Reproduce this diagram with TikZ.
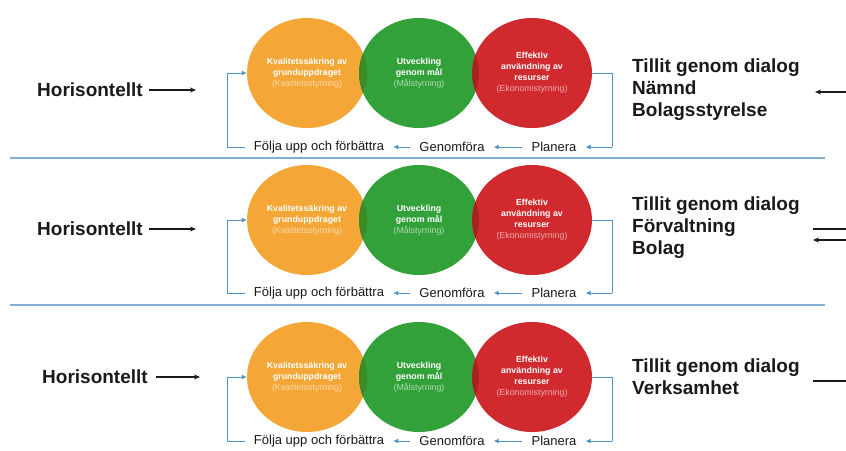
\documentclass[tikz,border=0pt]{standalone}
\usepackage{fontspec}
\setmainfont{Liberation Sans}
\usetikzlibrary{arrows.meta,shapes.geometric}
\definecolor{cOr}{HTML}{F4A636}
\definecolor{cGr}{HTML}{33A13A}
\definecolor{cRd}{HTML}{D02A2E}
\definecolor{cOG}{HTML}{3C8B24}
\definecolor{cGR}{HTML}{A92222}
\definecolor{cBl}{HTML}{4D93C9}
\definecolor{cSep}{HTML}{7FB1D8}
\definecolor{cTx}{HTML}{1A1A1A}
\tikzset{
  bubble/.style={ellipse,minimum width=120pt,minimum height=110pt,inner sep=0pt,
    text=white,align=center,font=\fontsize{8.8}{11}\selectfont\bfseries},
  cyc/.style={font=\fontsize{13}{15}\selectfont,text=cTx,inner xsep=9pt,inner ysep=2pt},
  cycline/.style={draw=cBl,line width=1pt},
  cycarrow/.style={cycline,-{Latex[length=5pt,width=5pt]}},
  biglabel/.style={font=\fontsize{19}{22}\selectfont\bfseries,text=cTx,align=left,inner sep=0pt},
  blkarrow/.style={draw=cTx,line width=1.1pt,-{Stealth[length=6pt,width=5pt]}},
  blkline/.style={draw=cTx,line width=1.1pt},
  sepline/.style={draw=cSep,line width=1.5pt}
}
\newcommand\cyclerow[3]{%
  % #1 index, #2 circle centre y, #3 bottom text y
  \node[bubble,fill=cOr] (o#1) at (307,#2) {Kvalitetssäkring av\\grunduppdraget\\{\mdseries\color{white!60!cOr}(Kvalitetsstyrning)}};
  \node[bubble,fill=cGr] (g#1) at (419,#2) {Utveckling\\genom mål\\{\mdseries\color{white!60!cGr}(Målstyrning)}};
  \node[bubble,fill=cRd] (r#1) at (532,#2) {Effektiv\\användning av\\resurser\\{\mdseries\color{white!60!cRd}(Ekonomistyrning)}};
  \begin{scope}
    \clip (o#1.center) ellipse [x radius=60pt,y radius=55pt];
    \fill[cOG] (g#1.center) ellipse [x radius=60pt,y radius=55pt];
  \end{scope}
  \begin{scope}
    \clip (g#1.center) ellipse [x radius=60pt,y radius=55pt];
    \fill[cGR] (r#1.center) ellipse [x radius=60pt,y radius=55pt];
  \end{scope}
  \node[cyc] (f#1) at (319,#3) {Följa upp och förbättra};
  \node[cyc] (ge#1) at (452,#3) {Genomföra};
  \node[cyc] (p#1) at (554,#3) {Planera};
  \coordinate (rt#1) at (612,#2);
  \coordinate (rb#1) at (612,#3);
  \coordinate (lt#1) at (227,#2);
  \coordinate (lb#1) at (227,#3);
  \draw[cycline] (r#1.east) -- (rt#1) -- (rb#1);
  \draw[cycarrow] (rb#1) -- (p#1.east);
  \draw[cycarrow] (p#1.west) -- (ge#1.east);
  \draw[cycarrow] (ge#1.west) -- (f#1.east);
  \draw[cycarrow] (f#1.west) -- (lb#1) -- (lt#1) -- (o#1.west);
}
\begin{document}
\begin{tikzpicture}[x=1pt,y=-1pt]
\useasboundingbox (0,0) rectangle (846,450);
\fill[white] (0,0) rectangle (846,450);

\cyclerow{1}{73}{147}
\cyclerow{2}{220}{293}
\cyclerow{3}{377}{441}

% separators
\coordinate (s1a) at (10,158); \coordinate (s1b) at (825,158);
\coordinate (s2a) at (10,305); \coordinate (s2b) at (825,305);
\draw[sepline] (s1a) -- (s1b);
\draw[sepline] (s2a) -- (s2b);

% left labels
\node[biglabel,anchor=west] (h1) at (37,90) {Horisontellt};
\node[biglabel,anchor=west] (h2) at (37,229) {Horisontellt};
\node[biglabel,anchor=west] (h3) at (42,377) {Horisontellt};
\coordinate (ha1) at (196,90);
\coordinate (ha2) at (196,229);
\coordinate (ha3) at (200,377);
\draw[blkarrow] ([xshift=6pt]h1.east) -- (ha1);
\draw[blkarrow] ([xshift=6pt]h2.east) -- (ha2);
\draw[blkarrow] ([xshift=8pt]h3.east) -- (ha3);

% right labels
\node[biglabel,anchor=west] (t1) at (632,90) {Tillit genom dialog\\Nämnd\\Bolagsstyrelse};
\node[biglabel,anchor=west] (t2) at (632,228) {Tillit genom dialog\\Förvaltning\\Bolag};
\node[biglabel,anchor=west] (t3) at (632,377) {Tillit genom dialog\\Verksamhet};

\coordinate (a1s) at (846,92);  \coordinate (a1e) at (815,92);
\coordinate (a2s) at (813,229); \coordinate (a2e) at (846,229);
\coordinate (a3s) at (846,240); \coordinate (a3e) at (813,240);
\coordinate (a4s) at (813,381); \coordinate (a4e) at (846,381);
\draw[blkarrow] (a1s) -- (a1e);
\draw[blkline] (a2s) -- (a2e);
\draw[blkarrow] (a3s) -- (a3e);
\draw[blkline] (a4s) -- (a4e);
\end{tikzpicture}
\end{document}
